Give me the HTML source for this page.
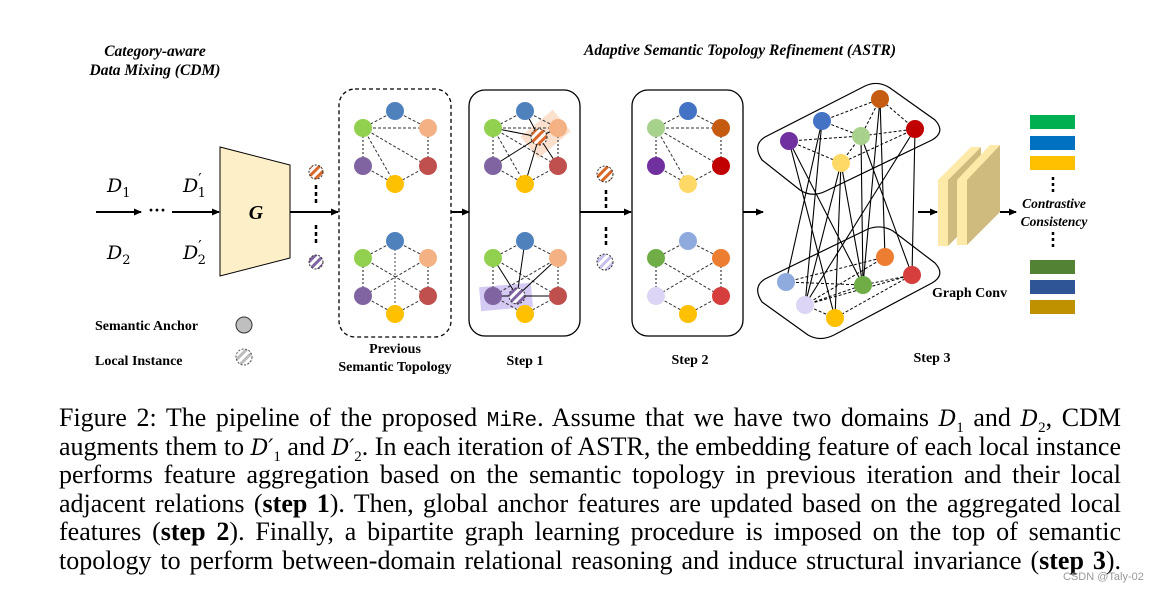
<!DOCTYPE html>
<html><head><meta charset="utf-8"><style>
body{margin:0;background:#fff;width:1160px;height:595px;overflow:hidden;position:relative}
svg{position:absolute;left:0;top:0}
.cap{position:absolute;left:59px;width:1062px;font-family:"Liberation Serif",serif;font-size:26px;color:#000;line-height:28.6px;top:404px}
.cap div{text-align:justify;text-align-last:justify;white-space:nowrap;height:28.6px}
.mono{font-family:"Liberation Mono",monospace;font-size:21px}
.cal{font-family:"DejaVu Serif",serif;font-style:italic;font-size:22px}
sub{font-size:15px;line-height:0}
.wm{position:absolute;left:1063px;top:571px;font-family:"Liberation Sans",sans-serif;font-size:11px;color:#999}
</style></head><body>
<svg width="1160" height="400" viewBox="0 0 1160 400" font-family="Liberation Serif, serif">
<defs>
<pattern id="ho" width="6" height="6" patternUnits="userSpaceOnUse" patternTransform="rotate(45)"><rect width="6" height="6" fill="#fff"/><rect width="3" height="6" fill="#d9682a"/></pattern>
<pattern id="hp" width="6" height="6" patternUnits="userSpaceOnUse" patternTransform="rotate(45)"><rect width="6" height="6" fill="#fff"/><rect width="3" height="6" fill="#8064a2"/></pattern>
<pattern id="hl" width="6" height="6" patternUnits="userSpaceOnUse" patternTransform="rotate(45)"><rect width="6" height="6" fill="#fff"/><rect width="3" height="6" fill="#c8c0ea"/></pattern>
<pattern id="hg" width="6" height="6" patternUnits="userSpaceOnUse" patternTransform="rotate(45)"><rect width="6" height="6" fill="#fff"/><rect width="3" height="6" fill="#bbb"/></pattern>
<marker id="ar" markerWidth="8" markerHeight="8" refX="7" refY="4" orient="auto" markerUnits="userSpaceOnUse"><path d="M0,0.5 L8,4 L0,7.5z" fill="#000"/></marker>
<g id="et" stroke="#333" stroke-width="1" stroke-dasharray="3,2" fill="none">
<path d="M0,-36 L-32,-19 M0,-36 L33,-19 M-32,19 L0,37 L33,19 M-32,-19 L33,-19 M-32,-19 L33,19 M-32,-19 L0,37"/>
<path d="M-32,-19 L-32,19 M33,-19 L33,19" stroke="#888" stroke-dasharray="2,2" stroke-width="2"/>
</g>
<g id="eb" stroke="#333" stroke-width="1" stroke-dasharray="3,2" fill="none">
<path d="M0,-36 L-32,-19 M0,-36 L33,-19 M-32,19 L0,37 L33,19 M-32,-19 L33,19 M33,-19 L-32,19"/>
<path d="M-32,-19 L-32,19 M33,-19 L33,19" stroke="#888" stroke-dasharray="2,2" stroke-width="2"/>
</g>
</defs>

<text x="155" y="56" text-anchor="middle" font-weight="bold" font-style="italic" font-size="15.5">Category-aware</text>
<text x="155" y="75" text-anchor="middle" font-weight="bold" font-style="italic" font-size="15.5">Data Mixing (CDM)</text>
<text x="740" y="55" text-anchor="middle" font-weight="bold" font-style="italic" font-size="15.5">Adaptive Semantic Topology Refinement (ASTR)</text>

<g font-family="DejaVu Serif, serif" font-style="italic" font-size="19">
<text x="107" y="192">D<tspan font-size="13" font-style="normal" dy="5">1</tspan></text>
<text x="183" y="192">D<tspan font-size="15" font-style="normal" dy="-8">′</tspan><tspan font-size="13" font-style="normal" dy="13" dx="-4">1</tspan></text>
<text x="107" y="259">D<tspan font-size="13" font-style="normal" dy="5">2</tspan></text>
<text x="183" y="259">D<tspan font-size="15" font-style="normal" dy="-8">′</tspan><tspan font-size="13" font-style="normal" dy="13" dx="-4">2</tspan></text>
</g>
<g stroke="#000" stroke-width="2" marker-end="url(#ar)">
<line x1="96" y1="212" x2="141" y2="212"/>
<line x1="172" y1="212" x2="219" y2="212"/>
<line x1="290" y1="212" x2="338" y2="212"/>
<line x1="451" y1="212" x2="469" y2="212"/>
<line x1="580" y1="212" x2="631" y2="212"/>
<line x1="743" y1="212" x2="763" y2="212"/>
<line x1="918" y1="212" x2="937" y2="212"/>
<line x1="1000" y1="212" x2="1016" y2="212"/>
</g>
<text x="157" y="216" text-anchor="middle" font-size="18" font-weight="bold">···</text>
<polygon points="220,147 290,165 290,258 220,276" fill="#fdf0c8" stroke="#000" stroke-width="1"/>
<text x="256" y="219" text-anchor="middle" font-size="20" font-weight="bold" font-style="italic">G</text>

<circle cx="316" cy="172" r="7" fill="url(#ho)" stroke="#333" stroke-dasharray="2,1.5"/>
<circle cx="316" cy="262" r="7" fill="url(#hp)" stroke="#333" stroke-dasharray="2,1.5"/>
<path d="M316,185v4 M316,192v4 M316,199v4 M316,225v4 M316,232v4 M316,239v4" stroke="#000" stroke-width="2.5"/>
<circle cx="605" cy="174" r="8" fill="url(#ho)" stroke="#333" stroke-dasharray="2,1.5"/>
<circle cx="605" cy="262" r="8" fill="url(#hl)" stroke="#333" stroke-dasharray="2,1.5"/>
<path d="M606,190v4 M606,197v4 M606,204v4 M606,227v4 M606,234v4 M606,241v4" stroke="#000" stroke-width="2.5"/>

<rect x="339" y="89" width="112" height="248" rx="16" fill="none" stroke="#000" stroke-width="1.3" stroke-dasharray="4,3"/>
<rect x="469" y="90" width="111" height="246" rx="16" fill="none" stroke="#000" stroke-width="1.3"/>
<rect x="632" y="90" width="111" height="246" rx="16" fill="none" stroke="#000" stroke-width="1.3"/>

<g transform="translate(395,147)"><use href="#et"/>
<circle cx="0" cy="-36" r="9" fill="#4f81bd"/><circle cx="-32" cy="-19" r="9" fill="#92d050"/><circle cx="33" cy="-19" r="9" fill="#f4b183"/><circle cx="-32" cy="19" r="9" fill="#8064a2"/><circle cx="33" cy="19" r="9" fill="#c0504d"/><circle cx="0" cy="37" r="9" fill="#ffc000"/></g>
<g transform="translate(395,277)"><use href="#eb"/><line x1="0" y1="-36" x2="0" y2="37" stroke="#444" stroke-dasharray="2,2"/>
<circle cx="0" cy="-36" r="9" fill="#4f81bd"/><circle cx="-32" cy="-19" r="9" fill="#92d050"/><circle cx="33" cy="-19" r="9" fill="#f4b183"/><circle cx="-32" cy="19" r="9" fill="#8064a2"/><circle cx="33" cy="19" r="9" fill="#c0504d"/><circle cx="0" cy="37" r="9" fill="#ffc000"/></g>

<g transform="translate(525,147)">
<rect x="0" y="-22" width="42" height="28" fill="#f8cbad" opacity="0.6" transform="rotate(-40 14 -10)"/>
<use href="#et"/>
<path d="M14,-10 L0,-36 M14,-10 L-32,-19 M14,-10 L-32,19 M14,-10 L0,37 M14,-10 L33,19 M14,-10 L33,-19" stroke="#000" stroke-width="1"/>
<circle cx="0" cy="-36" r="9" fill="#4f81bd"/><circle cx="-32" cy="-19" r="9" fill="#92d050"/><circle cx="33" cy="-19" r="9" fill="#f4b183"/><circle cx="-32" cy="19" r="9" fill="#8064a2"/><circle cx="33" cy="19" r="9" fill="#c0504d"/><circle cx="0" cy="37" r="9" fill="#ffc000"/>
<circle cx="14" cy="-10" r="8" fill="url(#ho)" stroke="#333" stroke-dasharray="2,1.5"/></g>
<g transform="translate(525,277)">
<rect x="-45" y="8" width="52" height="24" fill="#c9bdf0" opacity="0.8" transform="rotate(-5 -20 20)"/>
<use href="#eb"/>
<path d="M-8,19 L0,-36 M-8,19 L-32,-19 M-8,19 L33,-19 M-8,19 L33,19 M-8,19 L-32,19" stroke="#000" stroke-width="1"/>
<circle cx="0" cy="-36" r="9" fill="#4f81bd"/><circle cx="-32" cy="-19" r="9" fill="#92d050"/><circle cx="33" cy="-19" r="9" fill="#f4b183"/><circle cx="-32" cy="19" r="9" fill="#8064a2"/><circle cx="33" cy="19" r="9" fill="#c0504d"/><circle cx="0" cy="37" r="9" fill="#ffc000"/>
<circle cx="-8" cy="19" r="8" fill="url(#hp)" stroke="#333" stroke-dasharray="2,1.5"/></g>

<g transform="translate(688,147)"><use href="#et"/>
<circle cx="0" cy="-36" r="9" fill="#4472c4"/><circle cx="-32" cy="-19" r="9" fill="#a9d18e"/><circle cx="33" cy="-19" r="9" fill="#c55a11"/><circle cx="-32" cy="19" r="9" fill="#7030a0"/><circle cx="33" cy="19" r="9" fill="#c00000"/><circle cx="0" cy="37" r="9" fill="#ffd966"/></g>
<g transform="translate(688,277)"><use href="#eb"/>
<circle cx="0" cy="-36" r="9" fill="#8faadc"/><circle cx="-32" cy="-19" r="9" fill="#70ad47"/><circle cx="33" cy="-19" r="9" fill="#ed7d31"/><circle cx="-32" cy="19" r="9" fill="#ddd5f5"/><circle cx="33" cy="19" r="9" fill="#d63d3d"/><circle cx="0" cy="37" r="9" fill="#ffc000"/></g>

<path d="M765,137 Q752,145 762,160 L800,190 Q812,198 826,191 L932,140 Q946,132 935,120 L890,88 Q878,80 865,86 Z" fill="none" stroke="#000" stroke-width="1.2"/>
<path d="M765,279 Q752,287 762,302 L808,335 Q820,342 834,335 L932,283 Q946,275 935,263 L893,231 Q881,224 868,229 Z" fill="none" stroke="#000" stroke-width="1.2"/>
<g stroke="#000" stroke-width="1" stroke-dasharray="3,2" fill="none">
<path d="M789,141 L861,136 L915,129 M822,121 L880,99 L915,129 M822,121 L861,136 M789,141 L841,163 L915,129 M880,99 L861,136 M841,163 L861,136"/>
<path d="M786,282 L863,285 L912,275 M805,305 L885,257 M805,305 L863,285 M805,305 L835,318 L912,275 M786,282 L885,257 M805,305 L912,275"/>
</g>
<g stroke="#000" stroke-width="1.1">
<path d="M789,141 L835,318 M789,141 L863,285 M822,121 L786,282 M822,121 L805,305 M880,99 L863,285 M880,99 L885,257 M915,129 L912,275 M915,129 L805,305 M841,163 L805,305 M841,163 L835,318 M841,163 L863,285 M861,136 L863,285 M861,136 L912,275"/>
</g>
<circle cx="789" cy="141" r="9" fill="#7030a0"/><circle cx="822" cy="121" r="9" fill="#4472c4"/><circle cx="880" cy="99" r="9" fill="#c55a11"/><circle cx="861" cy="136" r="9" fill="#a9d18e"/><circle cx="915" cy="129" r="9" fill="#c00000"/><circle cx="841" cy="163" r="9" fill="#ffd966"/>
<circle cx="786" cy="282" r="9" fill="#8faadc"/><circle cx="805" cy="305" r="9" fill="#ddd5f5"/><circle cx="835" cy="318" r="9" fill="#ffc000"/><circle cx="863" cy="285" r="9" fill="#70ad47"/><circle cx="885" cy="257" r="9" fill="#ed7d31"/><circle cx="912" cy="275" r="9" fill="#d63d3d"/>

<polygon points="948,180 981,147 981,213 948,246" fill="#cfbb7e"/><polygon points="938,180 971,147 981,147 948,180" fill="#fde9a8"/><rect x="938" y="180" width="10" height="66" fill="#fde9a8"/>
<polygon points="967,180 1000,145 1000,212 967,245" fill="#cfbb7e"/><polygon points="957,180 990,145 1000,145 967,180" fill="#fde9a8"/><rect x="957" y="180" width="10" height="65" fill="#fde9a8"/>
<text x="932" y="297" font-size="14" font-weight="bold">Graph Conv</text>

<rect x="1030" y="115" width="45" height="14" fill="#00b050"/>
<rect x="1030" y="136" width="45" height="14" fill="#0070c0"/>
<rect x="1030" y="156" width="45" height="14" fill="#ffc000"/>
<path d="M1053,177v3 M1053,183v3 M1053,189v3 M1053,232v3 M1053,238v3 M1053,244v3" stroke="#000" stroke-width="2.5"/>
<text x="1054" y="208" text-anchor="middle" font-size="13.5" font-weight="bold" font-style="italic">Contrastive</text>
<text x="1054" y="226" text-anchor="middle" font-size="13.5" font-weight="bold" font-style="italic">Consistency</text>
<rect x="1030" y="260" width="45" height="14" fill="#548235"/>
<rect x="1030" y="280" width="45" height="14" fill="#2f5597"/>
<rect x="1030" y="300" width="45" height="14" fill="#bf9000"/>

<g font-size="14" font-weight="bold">
<text x="95" y="330">Semantic Anchor</text>
<text x="95" y="365">Local Instance</text>
<text x="395" y="353" text-anchor="middle">Previous</text>
<text x="395" y="371" text-anchor="middle">Semantic Topology</text>
<text x="525" y="365" text-anchor="middle">Step 1</text>
<text x="690" y="364" text-anchor="middle">Step 2</text>
<text x="932" y="362" text-anchor="middle">Step 3</text>
</g>
<circle cx="244" cy="325" r="8" fill="#bfbfbf" stroke="#333"/>
<circle cx="244" cy="357" r="8" fill="url(#hg)" stroke="#555" stroke-dasharray="2,1.5"/>
</svg>
<div class="cap">
<div>Figure 2: The pipeline of the proposed <span class="mono">MiRe</span>. Assume that we have two domains <span class="cal">D</span><sub>1</sub> and <span class="cal">D</span><sub>2</sub>, CDM</div>
<div>augments them to <span class="cal">D′</span><sub>1</sub> and <span class="cal">D′</span><sub>2</sub>. In each iteration of ASTR, the embedding feature of each local instance</div>
<div>performs feature aggregation based on the semantic topology in previous iteration and their local</div>
<div>adjacent relations (<b>step 1</b>). Then, global anchor features are updated based on the aggregated local</div>
<div>features (<b>step 2</b>). Finally, a bipartite graph learning procedure is imposed on the top of semantic</div>
<div>topology to perform between-domain relational reasoning and induce structural invariance (<b>step 3</b>).</div>
</div>
<div class="wm">CSDN @Taly-02</div>
</body></html>
